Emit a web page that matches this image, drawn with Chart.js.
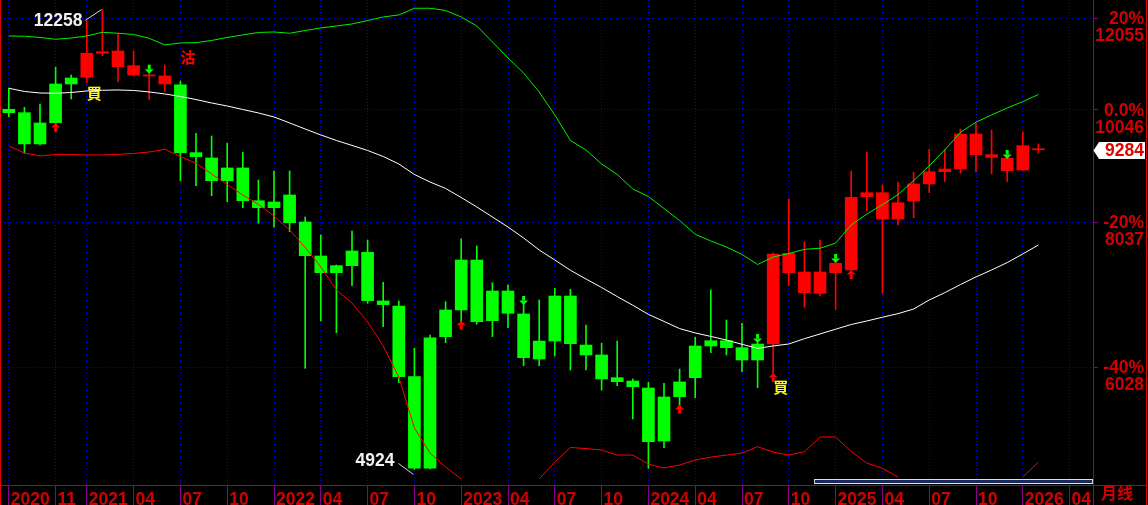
<!DOCTYPE html>
<html><head><meta charset="utf-8">
<script src="https://cdn.jsdelivr.net/npm/chart.js"></script>
<style>html,body{margin:0;padding:0;background:#000;overflow:hidden}canvas{display:block}</style>
</head><body>
<canvas id="c" width="1148" height="505"></canvas>
<script>
const months = [
 '2020-08','2020-09','2020-10','2020-11','2020-12',
 '2021-01','2021-02','2021-03','2021-04','2021-05','2021-06','2021-07','2021-08','2021-09','2021-10','2021-11','2021-12',
 '2022-01','2022-02','2022-03','2022-04','2022-05','2022-06','2022-07','2022-08','2022-09','2022-10','2022-11','2022-12',
 '2023-01','2023-02','2023-03','2023-04','2023-05','2023-06','2023-07','2023-08','2023-09','2023-10','2023-11','2023-12',
 '2024-01','2024-02','2024-03','2024-04','2024-05','2024-06','2024-07','2024-08','2024-09','2024-10','2024-11','2024-12',
 '2025-01','2025-02','2025-03','2025-04','2025-05','2025-06','2025-07','2025-08','2025-09','2025-10','2025-11','2025-12',
 '2026-01','2026-02','2026-03','2026-04','2026-05'
];
const open = [
 10060, 9993, 9392, 9797, 10578,
 10720, 11243, 11294, 10970, 10769, 10748, 10558, 9231, 9134, 8731, 8955, 8391,
 8276, 8487, 8044, 7520, 7275, 7377, 7575, 6878, 6810, 5919, 4935, 6407,
 6756, 7460, 6614, 7015, 6703, 6130, 6352, 6946, 6302, 6179, 5907, 5868,
 5787, 5210, 5688, 5907, 6290, 6356, 6269, 6118, 6315, 7560, 7285, 6983,
 7275, 7314, 8459, 8526, 8092, 8387, 8675, 8889, 8937, 9579, 9194, 9128,
 8919, 9300
];
const high = [
 10489, 10100, 10167, 10935, 10769,
 11993, 12258, 11675, 11294, 10818, 10985, 10641, 9593, 9542, 9405, 9238, 8743,
 8901, 8901, 8125, 7840, 7387, 7902, 7762, 7138, 6878, 6261, 6429, 6868,
 7778, 7671, 7132, 7100, 6837, 6891, 7053, 7039, 6558, 6324, 6352, 5892,
 5853, 5842, 6009, 6400, 7029, 6623, 6580, 6340, 7565, 8420, 7736, 7762,
 7431, 8901, 9238, 8658, 8709, 8879, 9293, 9293, 9674, 9790, 9655, 9134,
 9623, 9392
];
const low = [
 9914, 9220, 9373, 9771, 10268,
 10606, 11189, 10626, 10748, 10261, 10418, 8731, 8646, 8476, 8375, 8276, 8024,
 7961, 7891, 6018, 6610, 6458, 7090, 6846, 6536, 5849, 4924, 4928, 6331,
 6601, 6567, 6407, 6523, 6049, 6049, 6167, 5997, 5997, 5764, 5814, 5442,
 4935, 5141, 5588, 5677, 6207, 6179, 5977, 5791, 5950, 7090, 6792, 6946,
 6765, 7300, 8227, 6983, 7997, 8113, 8526, 8714, 8861, 8889, 8849, 8714,
 8910, 9220
];
const close = [
 9993, 9392, 9791, 10578, 10705,
 11243, 11278, 10948, 10769, 10748, 10578, 9231, 9157, 8731, 8955, 8391, 8276,
 8370, 8033, 7525, 7275, 7377, 7595, 6882, 6828, 5919, 4935, 6394, 6756,
 7460, 6601, 7015, 6712, 6146, 6352, 6946, 6319, 6179, 5892, 5860, 5802,
 5202, 5685, 5857, 6290, 6356, 6269, 6118, 6315, 7550, 7275, 6992, 7285,
 7412, 8449, 8526, 8092, 8358, 8675, 8889, 8937, 9579, 9194, 9146, 8907,
 9360, 9284
];
const midBand = [
 10489, 10422, 10391, 10385, 10401,
 10432, 10447, 10453, 10443, 10412, 10371, 10319, 10257, 10187, 10126, 10056, 9987,
 9908, 9791, 9674, 9561, 9457, 9364, 9271, 9161, 9026, 8840, 8709, 8598,
 8445, 8288, 8125, 7965, 7793, 7610, 7460, 7310, 7184, 7064, 6938, 6820,
 6697, 6604, 6511, 6455, 6411, 6365, 6311, 6261, 6290, 6315, 6382, 6442,
 6503, 6564, 6610, 6659, 6707, 6769, 6891, 6992, 7105, 7214, 7314, 7422,
 7550, 7686
];
const upperBand = [
 11635, 11629, 11601, 11559, 11589,
 11635, 11721, 11698, 11670, 11582, 11430, 11475, 11482, 11532, 11601, 11659, 11716,
 11728, 11698, 11762, 11821, 11868, 11916, 11998, 12082, 12131, 12293, 12293, 12239,
 12082, 11868, 11498, 11138, 10812, 10412, 9948, 9457, 9280, 9026, 8840, 8589,
 8462, 8263, 8068, 7851, 7747, 7655, 7543, 7394, 7505, 7557, 7620, 7636,
 7715, 7997, 8173, 8325, 8494, 8731, 8993, 9280, 9609, 9807, 9948, 10086,
 10215, 10360
];
const lowerBand = [
 9354, 9225, 9170, 9198, 9198,
 9189, 9189, 9198, 9216, 9243, 9293, 9161, 9038, 8849, 8666, 8487, 8329,
 8141, 7918, 7648, 7358, 7029, 6850, 6597, 6290, 5915, 5345, 5086, 4947,
 4831, null, null, null, null, 4831, 4996, 5143, 5132, 5117, 5066, 5066,
 4977, 4938, 4967, 5016, 5046, 5066, 5086, 5151, 5096, 5066, 5099, 5251,
 5251, 5102, 4986, 4935, 4850, null, null, null, null, null, null, null,
 4850, 4996
];
const buyMonths = ['2021-01', '2024-09'];
const sellMonths = ['2021-07'];
const upArrowMonths = ['2020-11', '2023-01', '2024-03', '2024-09', '2025-02'];
const downArrowMonths = ['2021-05', '2023-05', '2024-08', '2025-01', '2025-12'];
const xTickMonths = ['2020-08','2020-11','2021-01','2021-04','2021-07','2021-10','2022-01','2022-04','2022-07','2022-10',
 '2023-01','2023-04','2023-07','2023-10','2024-01','2024-04','2024-07','2024-10','2025-01','2025-04','2025-07','2025-10','2026-01','2026-04'];
const xTickText = ['2020','11','2021','04','07','10','2022','04','07','10',
 '2023','04','07','10','2024','04','07','10','2025','04','07','10','2026','04'];
const yTickValues = [6028, 8037, 10046, 12055];
const yTickPct = ['-40%', '-20%', '0.0%', '20%'];
const periodLabel = '月线';
const buyText = '買', sellText = '沽';

const RED = '#ff0000', GREEN = '#00ff00', AXIS_RED = '#d20000', PURPLE = '#8a008a', GRID_BLUE = '#0000e6';
const FONT = '"Liberation Sans", Arial, sans-serif';

const candleColor = [];
let upTrend = false;
for (let i = 0; i < close.length; i++) {
  if (buyMonths.includes(months[i])) upTrend = true;
  if (sellMonths.includes(months[i])) upTrend = false;
  candleColor.push(upTrend ? RED : GREEN);
}
const bodies = open.map((o, i) => [o, close[i]]);
const wicks = low.map((l, i) => [l, high[i]]);

const overlay = {
  id: 'overlay',
  beforeDraw(chart) {
    const c = chart.ctx; c.save(); c.fillStyle = '#000'; c.fillRect(0, 0, chart.width, chart.height); c.restore();
  },
  afterDraw(chart) {
    const c = chart.ctx, xs = chart.scales.x, ys = chart.scales.y, ca = chart.chartArea;
    const W = chart.width, H = chart.height;
    const X = i => xs.getPixelForValue(i);
    const Y = v => ys.getPixelForValue(v);
    c.save();
    c.fillStyle = '#e00000';
    c.fillRect(0, 0, 1, H);
    c.fillRect(W - 2, 0, 1, H);
    c.fillStyle = PURPLE;
    c.fillRect(Math.floor(ys.left), ca.bottom, 1, H - ca.bottom);
    c.fillRect(ys.left, Math.floor(ca.bottom), W - 2 - ys.left, 1);
    c.fillStyle = '#1b2a5c';
    c.fillRect(814, 479, 279, 5);
    c.strokeStyle = '#dcdce6'; c.lineWidth = 1;
    c.strokeRect(814.5, 479.5, 278, 4);
    c.fillStyle = AXIS_RED; c.font = 'bold 16px "Noto Sans CJK SC"';
    c.textAlign = 'left'; c.textBaseline = 'top';
    c.fillText(periodLabel, 1101, 485);
    const last = close.length - 1;
    const py = Math.round(Y(close[last]));
    const r = ys.left;
    c.fillStyle = '#ffffff';
    c.beginPath();
    c.moveTo(r + 0.5, py + 0.5); c.lineTo(r + 6, py - 8); c.lineTo(W - 3, py - 8);
    c.lineTo(W - 3, py + 9); c.lineTo(r + 6, py + 9); c.closePath(); c.fill();
    c.fillStyle = '#e00000'; c.font = 'bold 17.5px ' + FONT;
    c.textAlign = 'right'; c.textBaseline = 'middle';
    c.fillText(String(close[last]), W - 4, py + 1.5);
    let hi = 0, lo = 0;
    for (let i = 0; i < close.length; i++) { if (high[i] > high[hi]) hi = i; if (low[i] < low[lo]) lo = i; }
    c.strokeStyle = '#d8d8d8'; c.lineWidth = 1;
    const hx = X(hi), hy = Y(high[hi]);
    c.beginPath(); c.moveTo(hx - 17, hy + 10.5); c.lineTo(hx - 1, hy); c.stroke();
    const lx = X(lo), ly = Y(low[lo]);
    c.beginPath(); c.moveTo(lx - 16, ly - 6); c.lineTo(lx - 1, ly + 5); c.stroke();
    c.fillStyle = '#f2f2f2'; c.font = 'bold 17.5px ' + FONT;
    c.textAlign = 'right'; c.textBaseline = 'middle';
    c.fillText(String(high[hi]), hx - 20, hy + 11);
    c.fillText(String(low[lo]), lx - 20, ly - 8);
    const upA = (cx, tip) => {
      c.fillStyle = RED; c.beginPath();
      c.moveTo(cx, tip); c.lineTo(cx + 4.5, tip + 4.5); c.lineTo(cx - 4.5, tip + 4.5); c.closePath(); c.fill();
      c.fillRect(cx - 1.5, tip + 4.5, 3, 4.5);
    };
    const dnA = (cx, tip) => {
      c.fillStyle = GREEN; c.beginPath();
      c.moveTo(cx, tip); c.lineTo(cx + 4.5, tip - 4.5); c.lineTo(cx - 4.5, tip - 4.5); c.closePath(); c.fill();
      c.fillRect(cx - 1.5, tip - 9, 3, 4.5);
    };
    upArrowMonths.forEach(m => { const i = months.indexOf(m); upA(X(i), Y(low[i]) - 1); });
    downArrowMonths.forEach(m => { const i = months.indexOf(m); dnA(X(i), Y(high[i]) + 1); });
    c.font = 'bold 15px "Noto Sans CJK TC"'; c.textAlign = 'left';
    buyMonths.forEach(m => {
      const i = months.indexOf(m);
      const off = upArrowMonths.includes(m) ? 7 : 4;
      c.fillStyle = '#ffff00'; c.textBaseline = 'top';
      c.fillText(buyText, X(i), Y(low[i]) + off - 1);
    });
    sellMonths.forEach(m => {
      const i = months.indexOf(m);
      c.fillStyle = RED; c.textBaseline = 'bottom';
      c.fillText(sellText, X(i), Y(high[i]) - 16);
    });
    c.restore();
  }
};

new Chart(document.getElementById('c'), {
  type: 'bar',
  data: {
    labels: months,
    datasets: [
      { type: 'line', label: 'MID', data: midBand, borderColor: '#ffffff', borderWidth: 1, pointRadius: 0, tension: 0, order: 0, spanGaps: false },
      { type: 'line', label: 'UPPER', data: upperBand, borderColor: '#00f000', borderWidth: 1, pointRadius: 0, tension: 0, order: 0, spanGaps: false },
      { type: 'line', label: 'LOWER', data: lowerBand, borderColor: '#ff0000', borderWidth: 1, pointRadius: 0, tension: 0, order: 0, spanGaps: false },
      { type: 'bar', label: 'body', data: bodies, backgroundColor: candleColor, barThickness: 12, grouped: false, order: 1, minBarLength: 1 },
      { type: 'bar', label: 'wick', data: wicks, backgroundColor: candleColor, barThickness: 1, grouped: false, order: 2 }
    ]
  },
  options: {
    responsive: false, devicePixelRatio: 1, animation: false,
    layout: { padding: { left: 1, right: 4, top: 0, bottom: 0 } },
    plugins: { legend: { display: false }, tooltip: { enabled: false } },
    scales: {
      x: {
        type: 'category', offset: true,
        afterBuildTicks: s => { s.ticks = s.ticks.filter(t => xTickMonths.includes(months[t.value])); },
        afterFit: s => { s.height = 20; s.paddingLeft = 0; s.paddingRight = 0; },
        ticks: {
          autoSkip: false, maxRotation: 0, minRotation: 0, align: 'start', labelOffset: 2, padding: -15,
          color: AXIS_RED, font: { family: FONT, size: 17.5, weight: 'bold', lineHeight: '20px' },
          callback: function (v) { const k = xTickMonths.indexOf(months[v]); return k >= 0 ? xTickText[k] : ''; }
        },
        grid: { offset: false, color: GRID_BLUE, lineWidth: 1, tickColor: PURPLE, tickLength: 20, drawTicks: true },
        border: { color: PURPLE, width: 1, dash: [1, 2] }
      },
      y: {
        type: 'logarithmic', position: 'right', min: 4774, max: 12496, bounds: 'data',
        afterBuildTicks: s => { s.ticks = yTickValues.map(v => ({ value: v })); },
        afterFit: s => { s.width = 51; s.paddingTop = 0; s.paddingBottom = 0; },
        ticks: {
          autoSkip: false, crossAlign: 'far', padding: 0, labelOffset: 9.5,
          color: AXIS_RED, font: { family: FONT, size: 17.5, weight: 'bold', lineHeight: '17px' },
          callback: function (v) { const k = yTickValues.indexOf(v); return k >= 0 ? [yTickPct[k], String(v)] : ''; }
        },
        grid: { color: GRID_BLUE, lineWidth: 1, tickColor: PURPLE, tickLength: 5, drawTicks: true },
        border: { color: PURPLE, width: 1, dash: [1, 2] }
      }
    }
  },
  plugins: [overlay]
});
</script>
</body></html>
